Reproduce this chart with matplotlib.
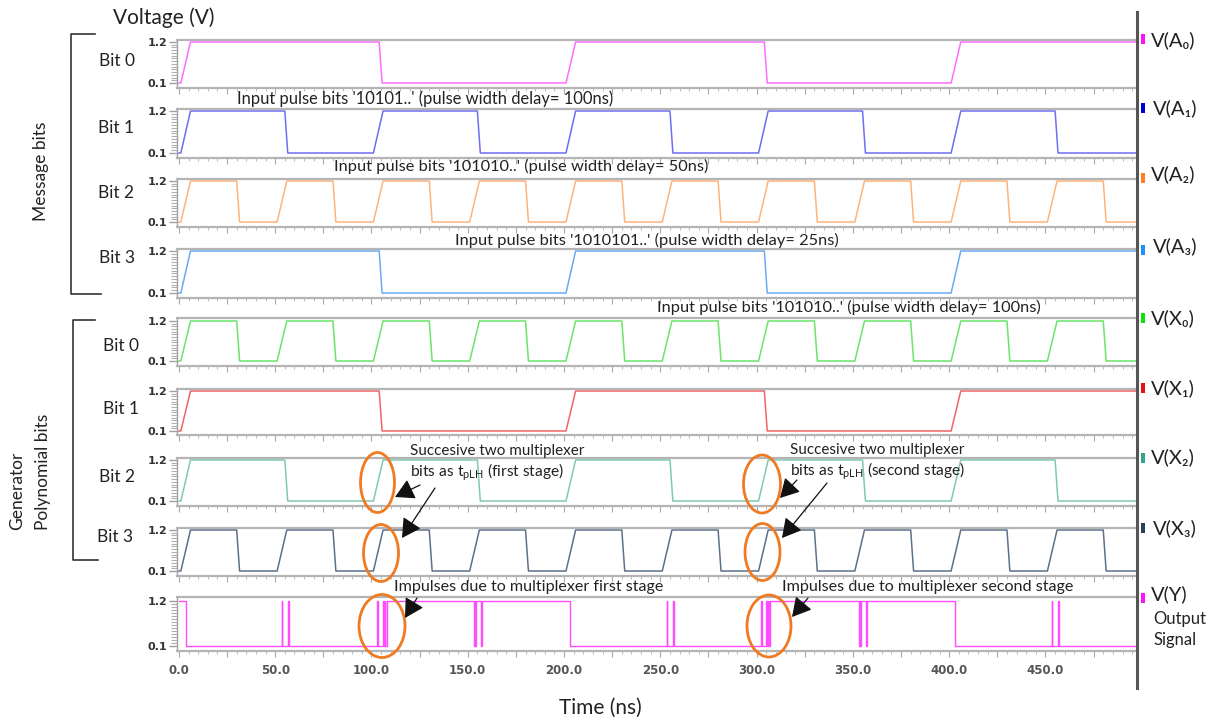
import matplotlib
matplotlib.use("Agg")
import matplotlib.pyplot as plt
import matplotlib.ticker as mt
from matplotlib.patches import Ellipse, Rectangle, FancyArrowPatch
from matplotlib.lines import Line2D
from matplotlib.transforms import Affine2D
import numpy as np

plt.rcParams['font.family'] = ['Lato', 'DejaVu Sans']
plt.rcParams['mathtext.fontset'] = 'custom'
plt.rcParams['mathtext.rm'] = 'Lato'

# ---------------- data (edge times in ns) ----------------
T_END = 497
LOW, HIGH = 0.1, 1.2

A0_rise = [1, 201, 401]
A0_fall = [104, 304]
A1_rise = [1, 101, 201, 301, 401]
A1_fall = [55, 155, 255, 355, 455]
A2_rise = [1, 51, 101, 151, 201, 251, 301, 351, 401, 451]
A2_fall = [30, 80, 130, 180, 230, 280, 330, 380, 430, 480]
A3_rise = [1, 201, 401]
A3_fall = [104, 304]
X0_rise = [1, 51, 101, 151, 201, 251, 301, 351, 401, 451]
X0_fall = [30, 80, 130, 180, 230, 280, 330, 380, 430, 480]
X1_rise = [1, 201, 401]
X1_fall = [104, 304]
X2_rise = [1, 101, 201, 301, 401]
X2_fall = [55, 155, 255, 355, 455]
X3_rise = [1, 51, 101, 151, 201, 251, 301, 351, 401, 451]
X3_fall = [30, 80, 130, 180, 230, 280, 330, 380, 430, 480]

# output signal: starts high, toggles at these times, with short glitches
Y_toggle = [3.5, 108, 203, 307, 403]
Y_spikes = [53.4, 56.6, 103.0, 106.0, 106.9, 153.2, 153.8, 157.0,
            253.2, 256.5, 302.2, 305.0, 305.9, 353.2, 353.8, 357.0,
            453.2, 456.5]

signal_names = ["A0", "A1", "A2", "A3", "X0", "X1", "X2", "X3"]
legend_labels = ["V(A\u2080)", "V(A\u2081)", "V(A\u2082)", "V(A\u2083)",
                 "V(X\u2080)", "V(X\u2081)", "V(X\u2082)", "V(X\u2083)", "V(Y)"]
bit_labels = ["Bit 0", "Bit 1", "Bit 2", "Bit 3", "Bit 0", "Bit 1", "Bit 2", "Bit 3"]
x_tick_labels = ["0.0", "50.0", "100.0", "150.0", "200.0", "250.0", "300.0", "350.0", "400.0", "450.0"]

line_colors = ['#ff6cff', '#6e6ef2', '#ffb37a', '#6aaaf2', '#6ae46a', '#f06464',
               '#80c8b6', '#5c708a', '#ff4cff']
mark_colors = ['#ff10ff', '#0000dd', '#ff7f27', '#1e90ff', '#10e010', '#e81010',
               '#2fa58c', '#2b3f5e', '#ff10ff']

edges = {"A0": (A0_rise, A0_fall), "A1": (A1_rise, A1_fall), "A2": (A2_rise, A2_fall),
         "A3": (A3_rise, A3_fall), "X0": (X0_rise, X0_fall), "X1": (X1_rise, X1_fall),
         "X2": (X2_rise, X2_fall), "X3": (X3_rise, X3_fall)}


def wave(rises, falls, rise=5.0, fall=1.5):
    ev = sorted([(t, 'r') for t in rises] + [(t, 'f') for t in falls])
    t, v = [0.0], [LOW]
    for te, k in ev:
        if k == 'r':
            t += [te, te + rise]; v += [LOW, HIGH]
        else:
            t += [te, te + fall]; v += [HIGH, LOW]
    t.append(T_END); v.append(v[-1])
    return t, v


def out_wave(toggles, spikes, w=0.35):
    ev = sorted([(t, 'T') for t in toggles] + [(t, 'S') for t in spikes])
    lev = HIGH
    t, v = [0.0], [lev]
    for te, k in ev:
        other = LOW if lev == HIGH else HIGH
        if k == 'T':
            t += [te, te]; v += [lev, other]; lev = other
        else:
            t += [te, te, te + w, te + w]; v += [lev, other, other, lev]
    t.append(T_END); v.append(lev)
    return t, v


# ---------------- figure ----------------
W, H = 1210, 722
fig = plt.figure(figsize=(W / 100, H / 100), dpi=100)
PX = Affine2D().scale(1 / W, -1 / H).translate(0, 1) + fig.transFigure

# pixel rows of the 1.2 V and 0.1 V levels for each panel
lev_px = [(42, 83), (111, 153), (181, 222), (251, 293), (321, 361),
          (391, 431), (460, 501), (530, 571), (601, 646)]
AX_L, AX_R = 177, 1136


def fmt_x(val, pos):
    if abs(val % 50) < 1e-6 and 0 <= val <= 450:
        return x_tick_labels[int(round(val / 50))]
    return ""


axes = []
for i, (y12, y01) in enumerate(lev_px):
    last = i == len(lev_px) - 1
    top_m = 4.0 if last else 2.5
    bot_m = 4.5
    top_px, bot_px = y12 - top_m, y01 + bot_m
    ax = fig.add_axes([AX_L / W, 1 - bot_px / H, (AX_R - AX_L) / W, (bot_px - top_px) / H])
    pxv = (y01 - y12) / (HIGH - LOW)
    ax.set_ylim(LOW - bot_m / pxv, HIGH + top_m / pxv)
    ax.set_xlim(-1.0, T_END)
    if last:
        t, v = out_wave(Y_toggle, Y_spikes)
        ax.plot(t, v, color=line_colors[i], lw=1.0)
    else:
        r, f = edges[signal_names[i]]
        t, v = wave(r, f)
        ax.plot(t, v, color=line_colors[i], lw=1.1)
    for s in ['top', 'bottom']:
        ax.spines[s].set_color('#b4b4b4'); ax.spines[s].set_linewidth(1.6)
    ax.spines['left'].set_color('#a0a0a0'); ax.spines['left'].set_linewidth(1.0)
    ax.spines['right'].set_visible(False)
    ax.yaxis.set_major_locator(mt.FixedLocator([LOW, HIGH]))
    ax.yaxis.set_major_formatter(mt.FixedFormatter(["0.1", "1.2"]))
    ax.yaxis.set_minor_locator(mt.FixedLocator(np.linspace(LOW, HIGH, 16)))
    ax.xaxis.set_major_locator(mt.MultipleLocator(25))
    ax.xaxis.set_minor_locator(mt.MultipleLocator(5))
    if last:
        ax.xaxis.set_major_formatter(mt.FuncFormatter(fmt_x))
    else:
        ax.xaxis.set_major_formatter(mt.NullFormatter())
    ax.tick_params(axis='y', which='major', length=6, width=1.0, color='#a0a0a0', pad=1,
                   labelsize=8, labelcolor='#333333')
    ax.tick_params(axis='y', which='minor', length=4.5, width=0.8, color='#b0b0b0')
    ax.tick_params(axis='x', which='major', length=4, width=0.8, color='#a8a8a8', pad=6,
                   labelsize=8.5, labelcolor='#555555')
    ax.tick_params(axis='x', which='minor', length=2.5, width=0.7, color='#b8b8b8')
    for lab in ax.get_yticklabels():
        lab.set_family('DejaVu Sans'); lab.set_fontweight('bold')
    for lab in ax.get_xticklabels():
        lab.set_family('DejaVu Sans'); lab.set_fontweight('bold')
    axes.append(ax)


def T(x, y, s, **kw):
    kw.setdefault('color', '#222222')
    fig.text(x, y, s, transform=PX, **kw)


# titles
T(113, 18, "Voltage (V)", fontsize=15, ha='left', va='center')
T(600, 708, "Time (ns)", fontsize=15, ha='center', va='center')

# bit labels
bit_pos = [(117, 61), (116, 128), (116, 193), (117, 258), (121, 346), (121, 409), (117, 477), (115, 537)]
for (x, y), s in zip(bit_pos, bit_labels):
    T(x, y, s, fontsize=12.5, ha='center', va='center')

# brackets
for xs, ys in [([95, 71, 71, 101], [34, 34, 294, 294]), ([95, 73, 73, 98], [320, 320, 560, 560])]:
    fig.add_artist(Line2D(xs, ys, transform=PX, color='#333333', lw=1.2))
T(41, 171, "Message bits", fontsize=12.5, rotation=90, ha='center', va='center')
T(17, 530, "Generator", fontsize=12.5, rotation=90, ha='center', va='bottom')
T(43, 530, "Polynomial bits", fontsize=12.5, rotation=90, ha='center', va='bottom')

# right border line and legend
fig.add_artist(Line2D([1137, 1137], [12, 688], transform=PX, color='#555555', lw=2.2))
leg_pos = [(1151, 40, 34), (1153, 108, 103), (1151, 174, 173), (1153, 246, 245), (1151, 318, 313),
           (1151, 388, 383), (1151, 457, 453), (1153, 528, 523), (1151, 594, 593)]
for (x, y, sq), s, c in zip(leg_pos, legend_labels, mark_colors):
    fig.add_artist(Rectangle((1141, sq), 4, 10, transform=PX, color=c, lw=0))
    T(x, y, s, fontsize=14.5, ha='left', va='center')
T(1153, 619, "Output", fontsize=12, ha='left', va='center')
T(1153, 640, "Signal", fontsize=12, ha='left', va='center')

# annotations
T(237, 99, "Input pulse bits '10101..' (pulse width delay= 100ns)", fontsize=11.9, ha='left', va='center')
T(334, 166, "Input pulse bits '101010..' (pulse width delay= 50ns)", fontsize=11.8, ha='left', va='center')
T(455, 240, "Input pulse bits '1010101..' (pulse width delay= 25ns)", fontsize=11.8, ha='left', va='center')
T(657, 307, "Input pulse bits '101010..' (pulse width delay= 100ns)", fontsize=11.8, ha='left', va='center')
T(410, 451, "Succesive two multiplexer", fontsize=11, ha='left', va='center')
T(410, 472, r"bits as t$_{\mathrm{pLH}}$ (first stage)", fontsize=11.2, ha='left', va='center')
T(790, 450, "Succesive two multiplexer", fontsize=11, ha='left', va='center')
T(790, 471, r"bits as t$_{\mathrm{pLH}}$ (second stage)", fontsize=11.2, ha='left', va='center')
T(394, 587, "Impulses due to multiplexer first stage", fontsize=11.6, ha='left', va='center')
T(782, 587, "Impulses due to multiplexer second stage", fontsize=11.6, ha='left', va='center')

ORANGE = '#f07a22'
for (cx, cy, w, h) in [(377.5, 482.5, 34, 60), (381, 553, 35, 57), (382, 626, 46, 63),
                       (762, 484, 37, 58), (762.5, 552, 35, 57), (769, 626, 44, 62)]:
    fig.add_artist(Ellipse((cx, cy), w, h, transform=PX, fill=False, ec=ORANGE, lw=2.0))

for (a, b) in [((420, 485), (395, 497)), ((435, 488), (402, 538)), ((417, 598), (405, 618)),
               ((797, 480), (780, 498)), ((827, 483), (782, 538)), ((808, 598), (792, 617))]:
    fig.add_artist(FancyArrowPatch(a, b, transform=PX, arrowstyle='-|>,head_length=0.9,head_width=0.5',
                                   mutation_scale=13, color='#111111', lw=0.9, shrinkA=0, shrinkB=0))

fig.savefig("out.png", dpi=100, facecolor='white')
